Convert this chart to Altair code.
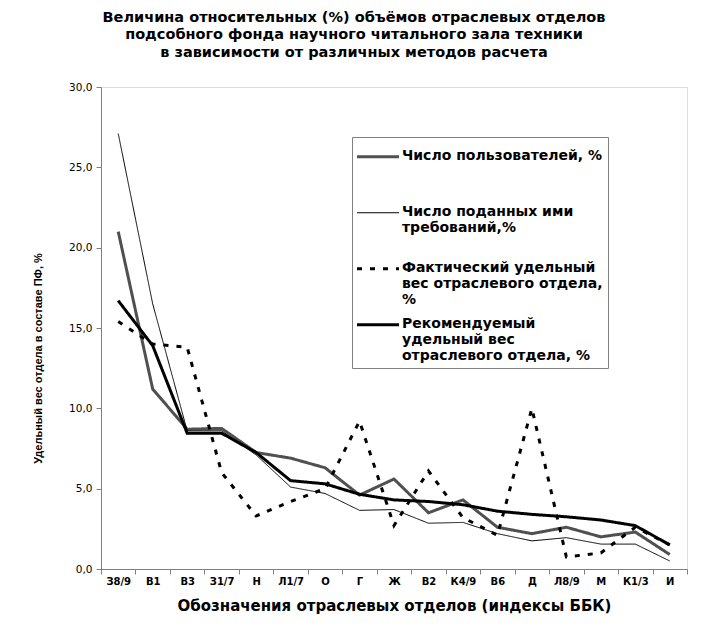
import altair as alt
import pandas as pd

categories = ["З8/9", "В1", "В3", "З1/7", "Н", "Л1/7", "О", "Г", "Ж", "В2",
              "К4/9", "В6", "Д", "Л8/9", "М", "К1/3", "И"]

users = [21.0, 11.2, 8.7, 8.75, 7.25, 6.9, 6.3, 4.6, 5.6, 3.5, 4.3, 2.6, 2.2, 2.6, 2.0, 2.3, 0.9]
requests = [27.1, 16.5, 8.6, 8.6, 7.1, 5.1, 4.7, 3.65, 3.7, 2.85, 2.9, 2.2, 1.75, 1.95, 1.55, 1.55, 0.5]
actual = [15.4, 14.0, 13.8, 6.0, 3.3, 4.2, 5.0, 9.2, 2.7, 6.1, 3.2, 2.1, 10.0, 0.75, 1.0, 2.6, 1.5]
recommended = [16.7, 13.9, 8.45, 8.45, 7.25, 5.5, 5.3, 4.65, 4.3, 4.2, 4.0, 3.6, 3.4, 3.25, 3.05, 2.7, 1.5]

names = [
    "Число пользователей, %",
    "Число поданных ими требований,%",
    "Фактический удельный вес отраслевого отдела, %",
    "Рекомендуемый удельный вес отраслевого отдела, %",
]
series_values = [users, requests, actual, recommended]
widths = [3, 1, 3, 3]
colors = ["#505050", "#000000", "#000000", "#000000"]
dashes = [[1, 0], [1, 0], [5, 8], [1, 0]]

rows = []
for name, vals, w in zip(names, series_values, widths):
    for c, v in zip(categories, vals):
        rows.append({"cat": c, "value": v, "series": name, "w": w})
df = pd.DataFrame(rows)

FONT = "Liberation Sans"
WIDE = "DejaVu Sans"

label_expr = (
    f"datum.label == '{names[0]}' ? ['{names[0]}', '', ''] : "
    f"datum.label == '{names[1]}' ? ['Число поданных ими', 'требований,%', ''] : "
    f"datum.label == '{names[2]}' ? ['Фактический удельный', 'вес отраслевого отдела,           ', '%'] : "
    "['Рекомендуемый', 'удельный вес', 'отраслевого отдела, %']"
)

legend = alt.Legend(
    title=None,
    orient="none",
    legendX=251,
    legendY=50,
    padding=5,
    strokeColor="#808080",
    fillColor="white",
    labelExpr=label_expr,
    labelBaseline="top",
    labelFont=WIDE,
    labelFontSize=14,
    labelFontWeight="bold",
    labelColor="black",
    labelLimit=500,
    labelOffset=31,
    rowPadding=3,
    symbolType="M-1.4,1.55H7",
    symbolSize=100,
    symbolStrokeWidth=alt.ExprRef(expr=f"(datum.value == '{names[1]}' ? 1 : 3)"),
)

x_enc = alt.X(
    "cat:N",
    sort=categories,
    bandPosition=0.5,
    scale=alt.Scale(type="band", paddingInner=0, paddingOuter=0),
    axis=alt.Axis(
        title="Обозначения отраслевых отделов (индексы ББК)",
        labelAngle=0,
        tickBand="extent",
        labelFont=WIDE,
        labelFontSize=10,
        labelFontWeight="bold",
        labelColor="black",
        labelPadding=2,
        tickSize=5,
        tickColor="#808080",
        domainColor="#808080",
        titleFont=WIDE,
        titleFontSize=15,
        titleFontWeight="bold",
        titleColor="black",
        titlePadding=12,
    ),
)

y_enc = alt.Y(
    "value:Q",
    scale=alt.Scale(domain=[0, 30], nice=False),
    axis=alt.Axis(
        title="Удельный вес отдела в составе ПФ, %",
        values=[0, 5, 10, 15, 20, 25, 30],
        labelExpr="replace(format(datum.value, '.1f'), '.', ',')",
        grid=False,
        labelFont=WIDE,
        labelFontSize=10.5,
        labelColor="black",
        labelPadding=4,
        tickSize=5,
        tickColor="#808080",
        domainColor="#808080",
        titleFont=FONT,
        titleFontSize=11,
        titleFontWeight="bold",
        titleColor="black",
        titleX=-63,
        titleY=271,
        titleBaseline="middle",
    ),
)

base = alt.Chart(df).mark_line(strokeCap="butt").encode(
    x=x_enc,
    y=y_enc,
    color=alt.Color("series:N", scale=alt.Scale(domain=names, range=colors), legend=legend),
    strokeDash=alt.StrokeDash("series:N", scale=alt.Scale(domain=names, range=dashes), legend=legend),
    strokeWidth=alt.StrokeWidth("w:Q", scale=None),
)

layers = [base.transform_filter(alt.datum.series == n) for n in names]

chart = alt.layer(*layers).properties(
    width=586,
    height=482,
    autosize=alt.AutoSizeParams(type="none"),
    padding={"left": 93, "top": 79, "right": 14, "bottom": 62},
    title=alt.TitleParams(
        text=[
            "Величина относительных (%) объёмов отраслевых отделов",
            "подсобного фонда научного читального зала техники",
            "в зависимости от различных методов расчета",
        ],
        font=WIDE,
        fontSize=14.5,
        fontWeight="bold",
        color="black",
        anchor="middle",
        lineHeight=17.5,
        offset=22,
        dx=-40,
    ),
).configure_view(
    stroke="#808080", strokeWidth=1
).configure(background="white")

chart.save("out.html", embed_options={"renderer": "svg", "actions": False})
